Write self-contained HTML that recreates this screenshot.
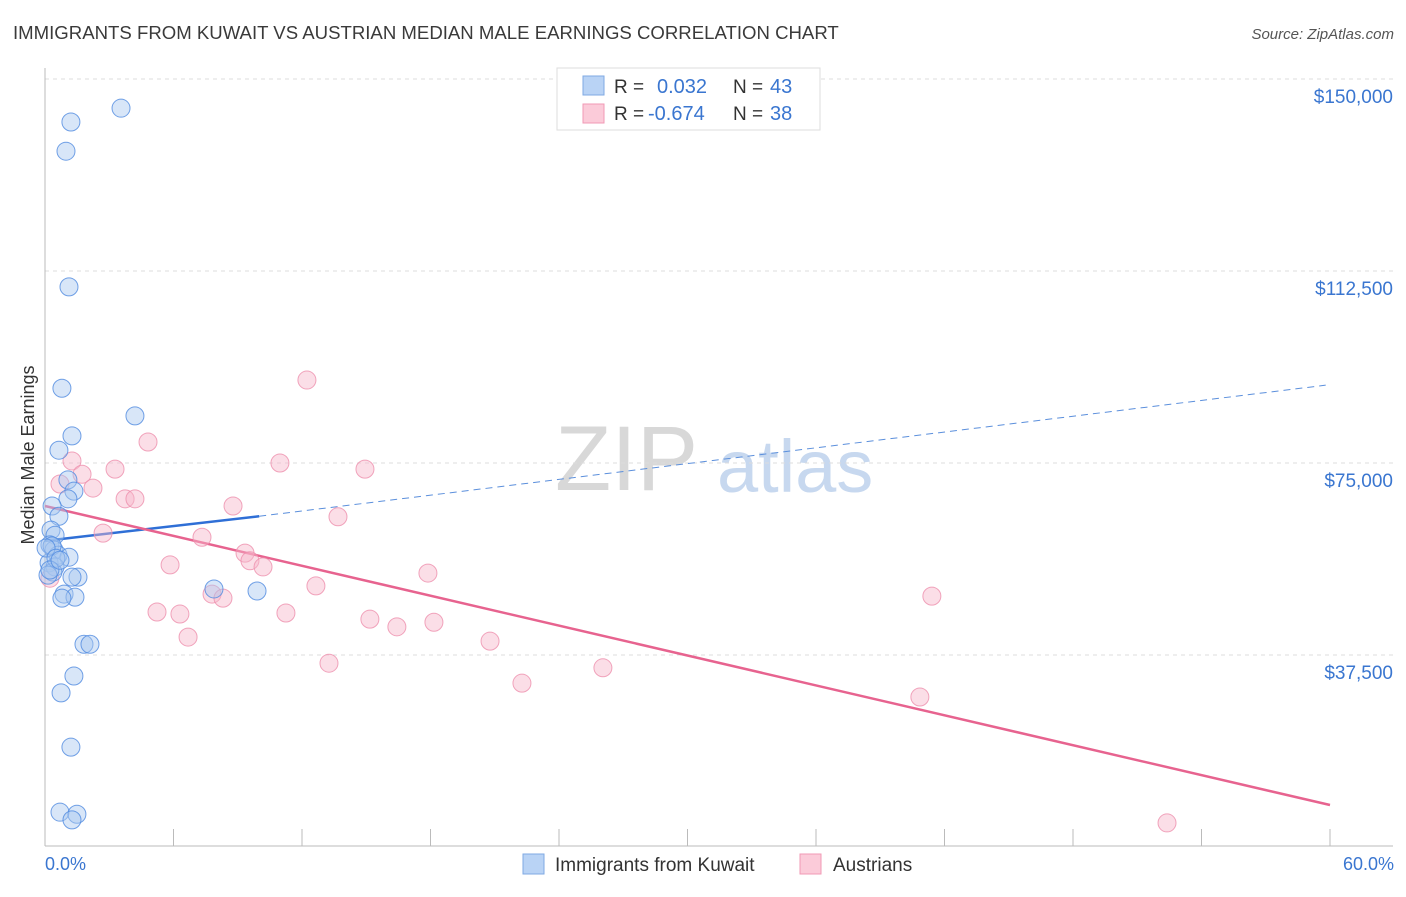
<!DOCTYPE html>
<html><head><meta charset="utf-8"><style>
body{margin:0;background:#fff;font-family:"Liberation Sans",sans-serif;}
svg text{font-family:"Liberation Sans",sans-serif;}
</style></head><body>
<svg id="chart" width="1406" height="892" viewBox="0 0 1406 892" xmlns="http://www.w3.org/2000/svg">
<text x="13" y="39" font-size="18.6" fill="#3a3a3a">IMMIGRANTS FROM KUWAIT VS AUSTRIAN MEDIAN MALE EARNINGS CORRELATION CHART</text>
<text x="1394" y="39" font-size="15" fill="#555" text-anchor="end" font-style="italic">Source: ZipAtlas.com</text>
<text transform="translate(34,455) rotate(-90)" font-size="18" fill="#333" text-anchor="middle">Median Male Earnings</text>
<g>
<text x="555" y="490" font-size="92" fill="#d8d8d8" font-family="Liberation Serif,serif">ZIP</text>
<text x="717" y="492" font-size="74" fill="#c7d8ef">atlas</text>
</g>
<g id="grid"></g><g id="axes"></g><g id="trends"></g><g id="points"></g>
<g>
<rect x="557" y="68" width="263" height="62" fill="#fff" stroke="#ddd"/>
<rect x="583" y="76" width="21" height="19" fill="#b9d3f5" stroke="#7fa9e3"/>
<rect x="583" y="104" width="21" height="19" fill="#fbcbd9" stroke="#f09ab5"/>
<text x="614" y="93" font-size="19" fill="#333">R =</text>
<text x="657" y="93" font-size="20" fill="#3a76d0">0.032</text>
<text x="733" y="93" font-size="19" fill="#333">N =</text>
<text x="770" y="93" font-size="20" fill="#3a76d0">43</text>
<text x="614" y="120" font-size="19" fill="#333">R =</text>
<text x="648" y="120" font-size="20" fill="#3a76d0">-0.674</text>
<text x="733" y="120" font-size="19" fill="#333">N =</text>
<text x="770" y="120" font-size="20" fill="#3a76d0">38</text>
</g>
<g>
<rect x="523" y="854" width="21" height="20" fill="#b9d3f5" stroke="#7fa9e3"/>
<text x="555" y="871" font-size="19" fill="#333">Immigrants from Kuwait</text>
<rect x="800" y="854" width="21" height="20" fill="#fbcbd9" stroke="#f09ab5"/>
<text x="833" y="871" font-size="19" fill="#333">Austrians</text>
</g>
<text x="45" y="870" font-size="18" fill="#3a76d0">0.0%</text>
<text x="1394" y="870" font-size="18" fill="#3a76d0" text-anchor="end">60.0%</text>
</svg>
<script>
const yTicks=[150000,112500,75000,37500];
const yTickLabels=["$150,000","$112,500","$75,000","$37,500"];
const xTicks=[0,6,12,18,24,30,36,42,48,54,60];
const kuwaitX=[3.55,1.21,0.98,1.12,0.79,4.20,1.26,0.65,1.07,1.35,1.07,0.33,0.65,0.28,0.47,0.23,0.42,0.61,1.12,0.19,0.47,0.37,0.14,1.54,1.26,7.89,9.90,0.89,1.40,0.79,1.82,2.10,1.35,0.75,1.21,0.70,1.49,1.26,0.33,0.05,0.51,0.23,0.70];
const kuwaitY=[144.3,141.6,135.9,109.4,89.6,84.2,80.3,77.5,71.7,69.5,68.0,66.6,64.6,61.9,60.9,59.0,58.0,57.0,56.6,55.5,54.7,53.7,53.1,52.7,52.7,50.4,50.0,49.4,48.8,48.6,39.6,39.6,33.4,30.1,19.5,6.8,6.4,5.3,58.8,58.4,56.4,54.1,56.0];
const austX=[12.23,4.81,1.26,3.27,14.94,10.97,1.73,2.24,0.70,3.74,4.20,8.78,13.68,2.71,7.33,9.34,9.57,10.18,5.84,17.88,0.23,12.65,41.41,7.80,8.31,5.23,6.30,11.25,15.17,16.43,18.16,6.68,20.78,13.26,26.05,22.27,40.85,52.39];
const austY=[91.2,79.1,75.4,73.8,73.8,75.0,72.8,70.1,70.9,68.0,68.0,66.6,64.5,61.3,60.5,57.4,55.9,54.7,55.1,53.5,52.5,51.0,49.0,49.4,48.6,45.9,45.5,45.7,44.5,43.0,43.9,41.0,40.2,35.9,35.0,32.0,29.3,4.7];
const kuwaitTrendX=[0,10,59.8];
const kuwaitTrendY=[59.8,64.6,90.2];
const austTrendX=[0,60];
const austTrendY=[66.6,8.2];

const NS="http://www.w3.org/2000/svg";
const xs=v=>45+v/60*1285;
const ys=v=>847-v/37500*192;
const yk=v=>ys(v*1000);
function mk(tag,attrs,parent){const e=document.createElementNS(NS,tag);for(const k in attrs)e.setAttribute(k,attrs[k]);document.getElementById(parent).appendChild(e);return e;}

yTicks.forEach((t,i)=>{
 const l=mk('line',{x1:45,x2:1393,y1:ys(t),y2:ys(t),stroke:'#ddd','stroke-dasharray':'4,4'},'grid');
 
 
 const tx=mk('text',{x:1393,y:ys(t)+24,'font-size':19,fill:'#3a76d0','text-anchor':'end'},'grid');
 tx.textContent=yTickLabels[i];
 
 
});
const ax=mk('line',{x1:45,x2:45,y1:68,y2:846,stroke:'#bbb'},'axes');


const bx=mk('line',{x1:45,x2:1393,y1:846,y2:846,stroke:'#bbb'},'axes');


xTicks.forEach(t=>{
 const l=mk('line',{x1:xs(t),x2:xs(t),y1:829,y2:846,stroke:'#bbb'},'axes');
 
 
});
function dots(X,Y,fill,stroke,name){
 X.forEach((x,i)=>{
  const c=mk('circle',{cx:xs(x),cy:yk(Y[i]),r:9,fill:fill,'fill-opacity':0.45,stroke:stroke,'stroke-opacity':0.8,'stroke-width':1},'points');
  
  
 });
}
dots(austX,austY,'#f7b6c9','#ee8fad','austrian-point');
dots(kuwaitX,kuwaitY,'#a9c8f0','#4f8ae0','kuwait-point');
const kt1=mk('line',{x1:xs(kuwaitTrendX[0]),y1:yk(kuwaitTrendY[0]),x2:xs(kuwaitTrendX[1]),y2:yk(kuwaitTrendY[1]),stroke:'#2f6fd6','stroke-width':2.5},'trends');


const kt2=mk('line',{x1:xs(kuwaitTrendX[1]),y1:yk(kuwaitTrendY[1]),x2:xs(kuwaitTrendX[2]),y2:yk(kuwaitTrendY[2]),stroke:'#5b8fdc','stroke-width':1,'stroke-dasharray':'7,5'},'trends');


const at=mk('line',{x1:xs(austTrendX[0]),y1:yk(austTrendY[0]),x2:xs(austTrendX[1]),y2:yk(austTrendY[1]),stroke:'#e7638f','stroke-width':2.5},'trends');


</script>
</body></html>
